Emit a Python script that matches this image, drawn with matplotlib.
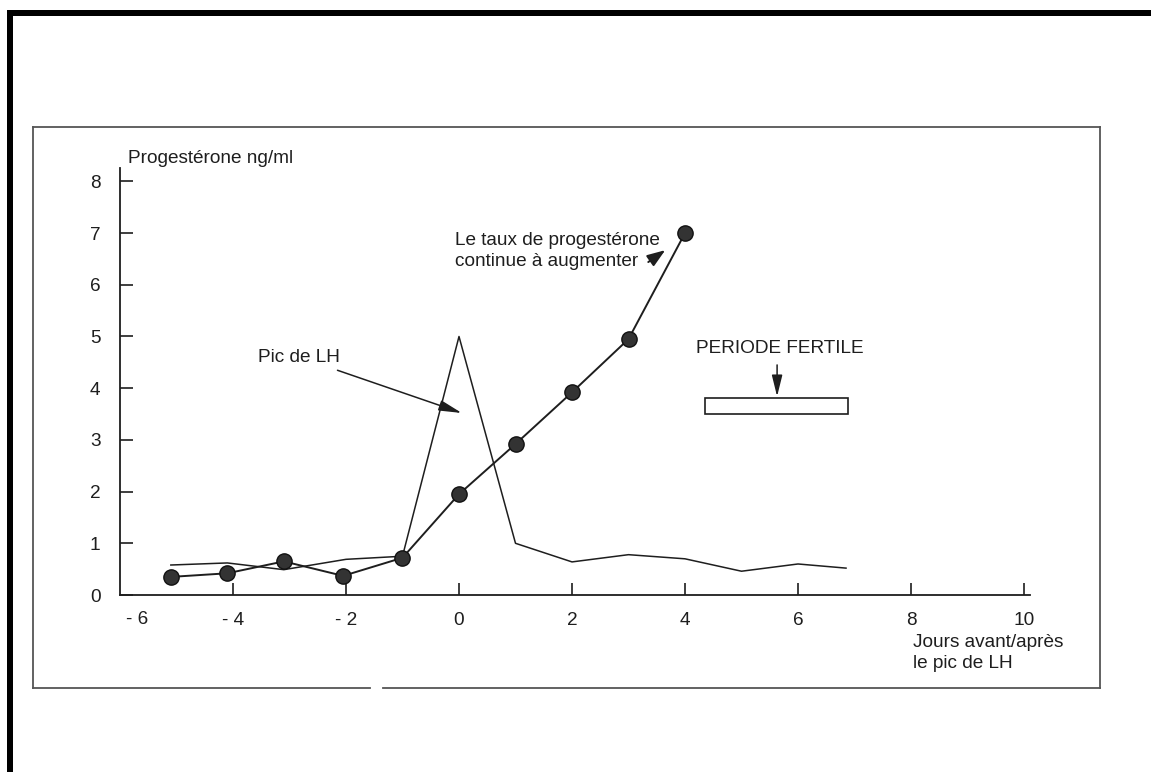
import matplotlib
matplotlib.use("Agg")
import matplotlib.pyplot as plt
from matplotlib.patches import Rectangle
from matplotlib.lines import Line2D

plt.rcParams["font.family"] = ["Liberation Sans", "DejaVu Sans"]

# data
prog_days = [-5.1, -4.1, -3.1, -2.05, -1, 0, 1, 2, 3, 4]
prog_values = [0.35, 0.42, 0.65, 0.37, 0.72, 1.95, 2.92, 3.92, 4.95, 7.0]

lh_days = [-5.1, -4.1, -3.1, -2, -1, 0, 1, 2, 3, 4, 5, 6, 6.85]
lh_values = [0.58, 0.62, 0.49, 0.69, 0.75, 5.0, 1.0, 0.64, 0.78, 0.70, 0.46, 0.60, 0.52]

x_ticks = [-4, -2, 0, 2, 4, 6, 8, 10]
x_ticklabels = ["- 4", "- 2", "0", "2", "4", "6", "8", "10"]
y_ticks = [0, 1, 2, 3, 4, 5, 6, 7, 8]

fertile_start, fertile_end = 4.35, 6.88
fertile_low, fertile_high = 3.50, 3.81

W, H = 1151, 772
ink = "#1e1e1e"
fs = 13.7

fig = plt.figure(figsize=(W / 100, H / 100), dpi=100)


def fx(px):
    return px / W


def fy(py):
    return 1 - py / H


# axes: x from -6 (px 120) to 10.1, y from 0 (px 595) to 8.25
ax = fig.add_axes([fx(120), fy(595), 16.1 * 56.5 / W, 8.25 * 51.7 / H])
ax.set_xlim(-6, 10.1)
ax.set_ylim(0, 8.25)

for s in ["top", "right"]:
    ax.spines[s].set_visible(False)
for s in ["left", "bottom"]:
    ax.spines[s].set_linewidth(1.3)
    ax.spines[s].set_color(ink)

ax.set_xticks(x_ticks)
ax.set_xticklabels(x_ticklabels)
ax.set_yticks(y_ticks)
ax.tick_params(axis="x", direction="in", length=9, width=1.2, pad=12,
               labelsize=fs, colors=ink)
ax.tick_params(axis="y", direction="in", length=9.5, width=1.2, pad=14,
               labelsize=fs, colors=ink)
ax.text(-5.7, -0.47, "- 6", ha="center", va="center", fontsize=fs, color=ink,
        clip_on=False)

# LH curve (thin line)
ax.plot(lh_days, lh_values, color=ink, lw=1.1, clip_on=False)
# progesterone curve with dots
ax.plot(prog_days, prog_values, color=ink, lw=1.4, marker="o", markersize=11,
        markerfacecolor="#333333", markeredgecolor="#111111", clip_on=False)

# annotations
ax.text(-5.86, 8.45, "Progestérone ng/ml", ha="left", va="center",
        fontsize=fs, color=ink, clip_on=False)

ax.annotate("Pic de LH", xy=(0.05, 3.52), xytext=(-2.1, 4.6),
            ha="right", va="center", fontsize=fs, color=ink,
            arrowprops=dict(arrowstyle="-|>,head_length=0.7,head_width=0.16",
                            color=ink, lw=1.1, mutation_scale=20,
                            shrinkA=4, shrinkB=0))

ax.text(-0.07, 6.65, "Le taux de progestérone\ncontinue à augmenter",
        ha="left", va="center", fontsize=fs, color=ink, linespacing=1.3)
ax.annotate("", xy=(3.65, 6.67), xytext=(3.35, 6.44),
            arrowprops=dict(arrowstyle="-|>,head_length=0.55,head_width=0.2",
                            color=ink, lw=1.4, mutation_scale=20,
                            shrinkA=0, shrinkB=0))

ax.text(5.68, 4.76, "PERIODE FERTILE", ha="center", va="center",
        fontsize=fs, color=ink)
ax.annotate("", xy=(5.63, 3.84), xytext=(5.63, 4.45),
            arrowprops=dict(arrowstyle="-|>,head_length=0.65,head_width=0.16",
                            color=ink, lw=1.1, mutation_scale=20,
                            shrinkA=0, shrinkB=0))
ax.add_patch(Rectangle((fertile_start, fertile_low), fertile_end - fertile_start,
                       fertile_high - fertile_low, facecolor="white",
                       edgecolor=ink, lw=1.2))

fig.text(fx(913), fy(653), "Jours avant/après\nle pic de LH", ha="left",
         va="center", fontsize=fs, color=ink, linespacing=1.3)

# inner frame of the scanned page (small gap in the bottom edge)
frame_col = "#555555"
for xs, ys in [([33, 1100], [127, 127]), ([33, 33], [127, 688]),
               ([1100, 1100], [127, 688]), ([33, 370], [688, 688]),
               ([383, 1100], [688, 688])]:
    fig.add_artist(Line2D([fx(v) for v in xs], [fy(v) for v in ys],
                          color=frame_col, lw=1.3))

# thick black page border (top and left)
fig.add_artist(Rectangle((fx(7), fy(16)), 1 - fx(7), 6 / H,
                         facecolor="black", edgecolor="none"))
fig.add_artist(Rectangle((fx(7), 0), 6 / W, fy(10),
                         facecolor="black", edgecolor="none"))

fig.savefig("out.png", dpi=100)
